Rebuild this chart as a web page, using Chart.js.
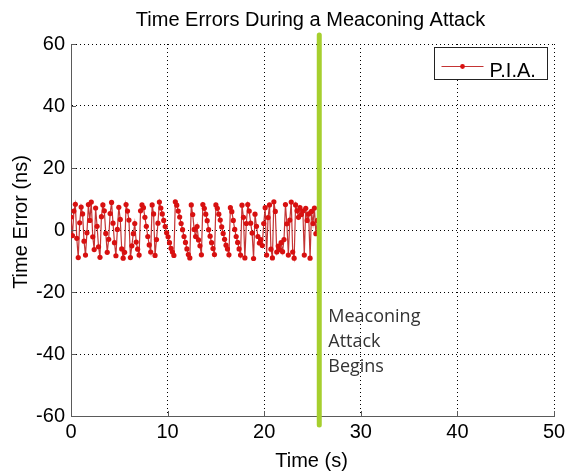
<!DOCTYPE html>
<html>
<head>
<meta charset="utf-8">
<title>Time Errors During a Meaconing Attack</title>
<script src="https://cdn.jsdelivr.net/npm/chart.js@4.4.1/dist/chart.umd.min.js"></script>
<style>
  html, body { margin: 0; padding: 0; background: #fff; }
  canvas { display: block; }
</style>
</head>
<body>
<canvas id="errChart" width="565" height="472"></canvas>
<script>
// === DATA ===
const timeS = [
  0, 0.15, 0.3, 0.45, 0.6, 0.75, 0.9, 1.05, 1.2, 1.35,
  1.5, 1.65, 1.8, 1.95, 2.1, 2.25, 2.4, 2.55, 2.7, 2.85,
  3, 3.15, 3.3, 3.45, 3.6, 3.75, 3.9, 4.05, 4.2, 4.35,
  4.5, 4.65, 4.8, 4.95, 5.1, 5.25, 5.4, 5.55, 5.7, 5.85,
  6, 6.15, 6.3, 6.45, 6.6, 6.75, 6.9, 7.05, 7.2, 7.35,
  7.5, 7.65, 7.8, 7.95, 8.1, 8.25, 8.4, 8.55, 8.7, 8.85,
  9, 9.15, 9.3, 9.45, 9.6, 9.75, 9.9, 10.05, 10.2, 10.35,
  10.5, 10.65, 10.8, 10.95, 11.1, 11.25, 11.4, 11.55, 11.7, 11.85,
  12, 12.15, 12.3, 12.45, 12.6, 12.75, 12.9, 13.05, 13.2, 13.35,
  13.5, 13.65, 13.8, 13.95, 14.1, 14.25, 14.4, 14.55, 14.7, 14.85,
  15, 15.15, 15.3, 15.45, 15.6, 15.75, 15.9, 16.05, 16.2, 16.35,
  16.5, 16.65, 16.8, 16.95, 17.1, 17.25, 17.4, 17.55, 17.7, 17.85,
  18, 18.15, 18.3, 18.45, 18.6, 18.75, 18.9, 19.05, 19.2, 19.35,
  19.5, 19.65, 19.8, 19.95, 20.1, 20.25, 20.4, 20.55, 20.7, 20.85,
  21, 21.15, 21.3, 21.45, 21.6, 21.75, 21.9, 22.05, 22.2, 22.35,
  22.5, 22.65, 22.8, 22.95, 23.1, 23.25, 23.4, 23.55, 23.7, 23.85,
  24, 24.15, 24.3, 24.45, 24.6, 24.75, 24.9, 25.05, 25.2, 25.35,
  25.5
];
const errorNs = [
  4.2, -1.8, 6.1, 8.3, -2.7, -8.9, 2.3, 7.4, 5.2, -3.6,
  -8.1, -0.9, 8.2, 3.1, 9.0, -2.2, -6.3, 7.1, 1.2, -5.4,
  -8.8, 4.3, 8.1, 6.2, -1.1, -7.2, -3.0, 5.3, 8.9, 2.2,
  -4.1, -8.3, 0.2, 7.3, 3.4, -6.1, -9.1, -7.2, 8.2, 6.1,
  3.2, -8.9, -5.1, -1.2, 2.1, -3.9, -6.2, -8.1, 6.2, 8.1,
  7.2, 4.1, 1.2, -2.1, -4.8, -7.1, 8.1, 5.2, -8.2, -3.1,
  2.2, 9.0, 7.1, 5.2, 3.1, 1.1, -0.9, -2.2, -4.1, -5.9,
  -7.1, -8.2, 9.1, 8.0, 6.1, 4.2, 2.1, 0.1, -2.1, -4.0,
  -6.1, -7.9, -9.0, 8.1, 5.0, 0.2, -2.1, 1.1, -3.2, -5.1,
  -8.0, 8.2, 7.0, 5.1, 3.0, 0.1, -2.0, -4.1, -6.0, -7.9,
  8.1, 7.0, 5.1, 3.2, 1.0, -1.1, -3.0, -4.9, -6.1, -8.0,
  7.2, 5.9, 3.1, 0.2, -2.1, -4.0, -6.1, -8.1, 8.0, 4.1,
  -9.0, 2.1, 8.2, 6.1, 2.2, -1.0, -9.2, 5.1, 1.2, -2.1,
  -4.2, -3.1, -5.0, 2.1, 7.2, -8.1, 4.0, 8.1, -6.2, -9.0,
  9.1, 6.0, -7.1, -5.2, -6.3, -4.1, -7.0, -3.1, 8.2, 2.0,
  -8.1, 3.2, 9.0, -7.1, -9.1, 8.1, 6.2, 4.1, 7.2, 5.0,
  6.1, -8.1, 7.0, 3.1, 5.2, -9.1, 6.0, 2.1, 7.1, -1.2,
  3.1
];
const xTicks = [0, 10, 20, 30, 40, 50];
const yTicks = [-60, -40, -20, 0, 20, 40, 60];
const attackStart = 25.7;
const seriesLabel = 'P.I.A.';
const chartTitle = 'Time Errors During a Meaconing Attack';
const xTitle = 'Time (s)';
const yTitle = 'Time Error (ns)';
const attackNote = ['Meaconing', 'Attack', 'Begins'];

// === GAYA ===
const FONT = "'Liberation Sans', Arial, sans-serif";
const RED = '#d81010';
const LINE_RED = 'rgba(190, 30, 30, 0.9)';
const GREEN = '#a6cf2e';

// === PLUGIN: garis serangan, judul, legenda ===
const decorPlugin = {
  id: 'decor',
  afterDatasetsDraw(chart) {
    const { ctx, chartArea: a, scales: { x } } = chart;
    const gx = x.getPixelForValue(attackStart);
    ctx.save();
    ctx.strokeStyle = GREEN;
    ctx.lineWidth = 5;
    ctx.lineCap = 'round';
    ctx.beginPath();
    ctx.moveTo(gx, a.top - 9);
    ctx.lineTo(gx, a.bottom + 9);
    ctx.stroke();

    // catatan di samping garis
    ctx.fillStyle = '#333';
    ctx.font = "18px 'Open Sans', sans-serif";
    ctx.textAlign = 'left';
    ctx.textBaseline = 'alphabetic';
    attackNote.forEach((t, i) => ctx.fillText(t, gx + 9, a.top + 278 + i * 25));
    ctx.restore();
  },
  afterDraw(chart) {
    const { ctx, chartArea: a, scales: { x, y } } = chart;
    ctx.save();

    // tick kecil ke dalam
    ctx.strokeStyle = '#5a5a5a';
    ctx.lineWidth = 1;
    ctx.beginPath();
    yTicks.forEach(v => {
      const py = Math.round(y.getPixelForValue(v)) + 0.5;
      ctx.moveTo(a.left, py); ctx.lineTo(a.left + 5, py);
    });
    xTicks.forEach(v => {
      const px = Math.round(x.getPixelForValue(v)) + 0.5;
      ctx.moveTo(px, a.bottom); ctx.lineTo(px, a.bottom - 5);
    });
    ctx.stroke();

    // judul
    ctx.fillStyle = '#000';
    ctx.font = '20px ' + FONT;
    ctx.textAlign = 'center';
    ctx.textBaseline = 'alphabetic';
    ctx.fillText(chartTitle, (a.left + a.right) / 2 - 2, 26);
    ctx.fillText(xTitle, (a.left + a.right) / 2 - 1, 467);

    ctx.save();
    ctx.translate(27, 222);
    ctx.rotate(-Math.PI / 2);
    ctx.fillText(yTitle, 0, 0);
    ctx.restore();

    // legenda
    const bx = a.right - 119.5, by = a.top + 3.5, bw = 113, bh = 32;
    ctx.fillStyle = '#fff';
    ctx.fillRect(bx, by, bw, bh);
    ctx.strokeStyle = '#222';
    ctx.lineWidth = 1;
    ctx.strokeRect(bx, by, bw, bh);
    const ly = by + 19;
    ctx.strokeStyle = LINE_RED;
    ctx.beginPath();
    ctx.moveTo(bx + 7, ly); ctx.lineTo(bx + 49, ly);
    ctx.stroke();
    ctx.fillStyle = RED;
    ctx.beginPath();
    ctx.arc(bx + 28, ly, 2.4, 0, Math.PI * 2);
    ctx.fill();
    ctx.fillStyle = '#000';
    ctx.textAlign = 'left';
    ctx.fillText(seriesLabel, bx + 55, by + 29);
    ctx.restore();
  }
};

// === SETUP CHART ===
const ctx = document.getElementById('errChart').getContext('2d');
const errChart = new Chart(ctx, {
  type: 'line',
  data: {
    datasets: [{
      label: seriesLabel,
      data: timeS.map((t, i) => ({ x: t, y: errorNs[i] })),
      borderColor: LINE_RED,
      borderWidth: 1.2,
      pointRadius: 2.6,
      pointBackgroundColor: RED,
      pointBorderWidth: 0,
      tension: 0
    }]
  },
  options: {
    responsive: false,
    animation: false,
    devicePixelRatio: 1,
    layout: { padding: { top: 44, right: 11, left: 0, bottom: 0 } },
    plugins: {
      legend: { display: false },
      title: { display: false },
      tooltip: { enabled: false }
    },
    scales: {
      x: {
        type: 'linear',
        min: 0,
        max: 50,
        afterBuildTicks: s => { s.ticks = xTicks.map(v => ({ value: v })); },
        afterFit: s => { s.height = 56; s.paddingLeft = 0; s.paddingRight = 0; },
        grid: { color: '#000', lineWidth: 1, drawTicks: false },
        border: { display: true, color: '#5a5a5a', width: 1, dash: [1, 3] },
        ticks: { padding: 4, color: '#000', maxRotation: 0, font: { family: FONT, size: 20 } }
      },
      y: {
        min: -60,
        max: 60,
        afterBuildTicks: s => { s.ticks = yTicks.map(v => ({ value: v })); },
        afterFit: s => { s.width = 71; s.paddingTop = 0; s.paddingBottom = 0; },
        grid: { color: '#000', lineWidth: 1, drawTicks: false },
        border: { display: true, color: '#5a5a5a', width: 1, dash: [1, 3] },
        ticks: { padding: 6, color: '#000', font: { family: FONT, size: 20 } }
      }
    }
  },
  plugins: [decorPlugin]
});
</script>
</body>
</html>
